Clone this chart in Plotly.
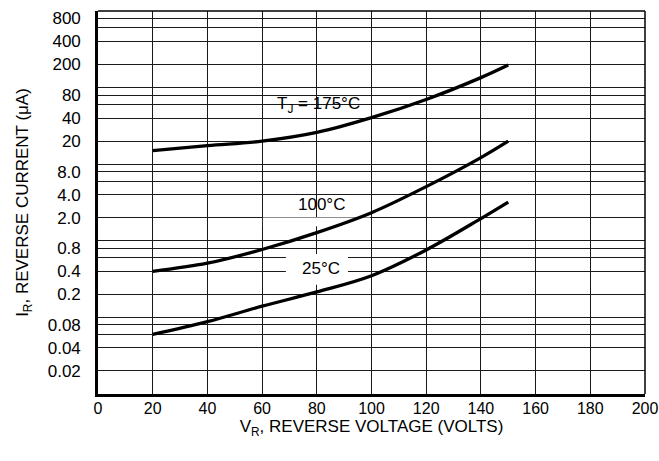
import math
import plotly.graph_objects as go

# reverse voltage (V)
vr = [20, 40, 60, 80, 100, 120, 140, 150]

# reverse current (uA) per junction temperature
ir_175 = [15, 17.5, 20, 26, 40.5, 70, 135, 197]
ir_100 = [0.4, 0.51, 0.77, 1.28, 2.33, 5.1, 12.2, 20]
ir_25 = [0.06, 0.088, 0.14, 0.215, 0.35, 0.76, 1.95, 3.2]

x_ticks = [0, 20, 40, 60, 80, 100, 120, 140, 160, 180, 200]
y_grid = [0.01, 0.02, 0.04, 0.06, 0.08, 0.1, 0.2, 0.4, 0.6, 0.8, 1,
          2, 4, 6, 8, 10, 20, 40, 60, 80, 100, 200, 400, 600, 800, 1000]
y_text = ['', '0.02', '0.04', '', '0.08', '', '0.2', '0.4', '', '0.8', '',
          '2.0', '4.0', '', '8.0', '', '20', '40', '', '80', '', '200', '400', '', '800', '']

FONT = 'Liberation Sans, Arial, sans-serif'

fig = go.Figure()
for ys in (ir_175, ir_100, ir_25):
    fig.add_trace(go.Scatter(x=vr, y=ys, mode='lines',
                             line=dict(color='black', width=3.3, shape='spline'),
                             showlegend=False))

# curve labels: text position, then white box (x0, x1, ylo, yhi) behind it
labels = [
    (80.8, 58.6, 'T<sub>J</sub> = 175°C', (60.3, 99.5, 35.2, 104)),
    (81.8, 3.0, '100°C', (68.7, 91.4, 1.85, 4.7)),
    (81.5, 0.44, '25°C', (68.7, 91.4, 0.28, 0.71)),
]
for x, y, txt, (bx0, bx1, by0, by1) in labels:
    # white box sits between the grid and the curves
    fig.add_shape(type='rect', xref='x', yref='y', layer='between',
                  x0=bx0, x1=bx1, y0=math.log10(by0), y1=math.log10(by1),
                  fillcolor='white', line=dict(width=0))
    # annotation y on a log axis is given in log10 units
    fig.add_annotation(x=x, y=math.log10(y), text=txt, showarrow=False,
                       font=dict(size=17, color='black', family=FONT))

# thin top and right frame lines
fig.add_shape(type='line', xref='paper', yref='paper', x0=0, x1=1, y0=1, y1=1,
              line=dict(color='black', width=1.5))
fig.add_shape(type='line', xref='paper', yref='paper', x0=1, x1=1, y0=0, y1=1,
              line=dict(color='black', width=1.5))

fig.update_layout(
    width=659, height=461,
    margin=dict(l=98, r=14, t=11, b=67),
    paper_bgcolor='white', plot_bgcolor='white',
    font=dict(family=FONT, color='black', size=17),
    xaxis=dict(range=[0, 200], tickvals=x_ticks, ticks='',
               tickfont=dict(size=16),
               showgrid=True, gridcolor='#1a1a1a', gridwidth=1.3,
               showline=True, linecolor='black', linewidth=2.6,
               zeroline=False, ticklabelstandoff=-2, ticklabeloverflow='allow',
               automargin=False,
               title=dict(text='V<sub>R</sub>, REVERSE VOLTAGE (VOLTS)',
                          font=dict(size=17), standoff=0)),
    yaxis=dict(type='log', range=[-2, 3], tickvals=y_grid, ticktext=y_text,
               ticks='', showgrid=True, gridcolor='#1a1a1a', gridwidth=1.3,
               showline=True, linecolor='black', linewidth=2.6,
               zeroline=False, ticklabelstandoff=11, automargin=False,
               title=dict(text='I<sub>R</sub>, REVERSE CURRENT (μA)',
                          font=dict(size=17), standoff=15)),
)

# drop the default page margin so the figure fills the window exactly
fig.write_html('out.html', config={'displayModeBar': False},
               post_script="document.body.style.margin='0';"
                           "document.body.style.overflow='hidden';")
